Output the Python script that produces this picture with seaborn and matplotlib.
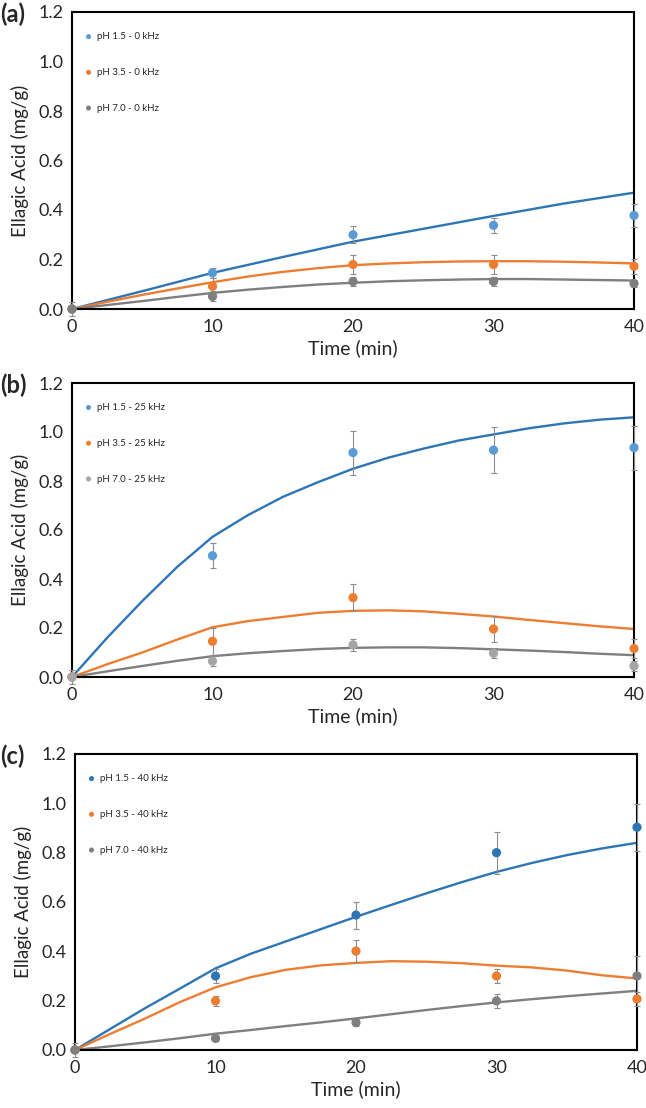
import matplotlib
matplotlib.use("Agg")
import matplotlib.pyplot as plt
import seaborn as sns
import pandas as pd

# measured points (min)
t_pts = [0, 10, 20, 30, 40]
# model curves every 2.5 min
t_fit = [0, 2.5, 5, 7.5, 10, 12.5, 15, 17.5, 20, 22.5, 25, 27.5, 30, 32.5, 35, 37.5, 40]

# panel (a) 0 kHz
a_labels = ["pH 1.5 - 0 kHz", "pH 3.5 - 0 kHz", "pH 7.0 - 0 kHz"]
a_pts = [[0, 0.146, 0.30, 0.338, 0.378],
         [0, 0.092, 0.18, 0.18, 0.173],
         [0, 0.051, 0.111, 0.111, 0.103]]
a_err = [[0.03, 0.02, 0.035, 0.03, 0.045],
         [0, 0.033, 0.04, 0.037, 0.03],
         [0, 0.02, 0.02, 0.02, 0.015]]
a_fit = [[0, 0.036, 0.072, 0.109, 0.146, 0.178, 0.21, 0.241, 0.272, 0.298,
          0.324, 0.35, 0.376, 0.401, 0.426, 0.448, 0.47],
         [0, 0.029, 0.057, 0.083, 0.108, 0.131, 0.150, 0.165, 0.177, 0.184,
          0.189, 0.192, 0.193, 0.193, 0.191, 0.188, 0.184],
         [0, 0.016, 0.032, 0.049, 0.065, 0.078, 0.089, 0.099, 0.106, 0.112,
          0.116, 0.119, 0.121, 0.121, 0.119, 0.117, 0.115]]

# panel (b) 25 kHz
b_labels = ["pH 1.5 - 25 kHz", "pH 3.5 - 25 kHz", "pH 7.0 - 25 kHz"]
b_pts = [[0, 0.495, 0.916, 0.926, 0.936],
         [0, 0.146, 0.324, 0.196, 0.116],
         [0, 0.065, 0.131, 0.097, 0.045]]
b_err = [[0.03, 0.05, 0.09, 0.095, 0.09],
         [0, 0.055, 0.055, 0.052, 0.04],
         [0, 0.02, 0.025, 0.02, 0.02]]
b_fit = [[0, 0.16, 0.31, 0.45, 0.572, 0.66, 0.735, 0.795, 0.85, 0.895,
          0.932, 0.965, 0.99, 1.015, 1.035, 1.05, 1.06],
         [0, 0.052, 0.10, 0.153, 0.203, 0.228, 0.245, 0.262, 0.27, 0.272,
          0.268, 0.258, 0.247, 0.233, 0.22, 0.207, 0.196],
         [0, 0.023, 0.045, 0.066, 0.085, 0.097, 0.106, 0.114, 0.119, 0.121,
          0.121, 0.118, 0.113, 0.108, 0.102, 0.095, 0.089]]

# panel (c) 40 kHz
c_labels = ["pH 1.5 - 40 kHz", "pH 3.5 - 40 kHz", "pH 7.0 - 40 kHz"]
c_pts = [[0, 0.30, 0.547, 0.80, 0.903],
         [0, 0.199, 0.401, 0.30, 0.207],
         [0, 0.047, 0.111, 0.199, 0.30]]
c_err = [[0.03, 0.03, 0.055, 0.085, 0.095],
         [0, 0.02, 0.045, 0.03, 0.03],
         [0, 0.01, 0.015, 0.03, 0.08]]
c_fit = [[0, 0.085, 0.17, 0.25, 0.331, 0.39, 0.44, 0.49, 0.54, 0.588,
          0.635, 0.68, 0.722, 0.758, 0.79, 0.817, 0.84],
         [0, 0.065, 0.128, 0.195, 0.254, 0.295, 0.325, 0.343, 0.353, 0.36,
          0.358, 0.352, 0.342, 0.335, 0.322, 0.303, 0.29],
         [0, 0.015, 0.031, 0.048, 0.066, 0.081, 0.097, 0.112, 0.128, 0.145,
          0.162, 0.178, 0.193, 0.206, 0.218, 0.229, 0.24]]

line_colors = ["#2E75B6", "#ED7D31", "#7F7F7F"]

sns.set_style("white")
plt.rcParams["font.family"] = ["Lato", "DejaVu Sans"]

fig = plt.figure(figsize=(6.46, 11.08), dpi=100)
W, H = 646, 1108


def px_axes(left, top, right, bottom):
    return fig.add_axes([left / W, 1 - bottom / H, (right - left) / W, (bottom - top) / H])


def draw_panel(ax, tag, top_px, labels, pts, err, fits, marker_colors):
    for i in range(3):
        df_fit = pd.DataFrame({"t": t_fit, "y": fits[i]})
        sns.lineplot(data=df_fit, x="t", y="y", ax=ax, color=line_colors[i],
                     linewidth=1.7, zorder=2, legend=False)
    for i in range(3):
        ax.errorbar(t_pts, pts[i], yerr=err[i], fmt="none", ecolor="#8C8C8C",
                    elinewidth=0.8, capsize=2, capthick=0.8, zorder=3, clip_on=False)
    for i in range(3):
        df_pts = pd.DataFrame({"t": t_pts, "y": pts[i]})
        sns.scatterplot(data=df_pts, x="t", y="y", ax=ax, color=marker_colors[i],
                        s=44, edgecolor="none", zorder=4, clip_on=False,
                        label=labels[i])
    ax.set_xlim(0, 40)
    ax.set_ylim(0, 1.2)
    ax.set_xticks([0, 10, 20, 30, 40])
    ax.set_yticks([0, 0.2, 0.4, 0.6, 0.8, 1.0, 1.2])
    ax.set_yticklabels(["%.1f" % v for v in ax.get_yticks()])
    ax.tick_params(axis="x", length=0, pad=7, labelsize=13)
    ax.tick_params(axis="y", length=0, pad=6, labelsize=13)
    for sp in ax.spines.values():
        sp.set_visible(True)
        sp.set_color("black")
        sp.set_linewidth(1.5)
    ax.set_xlabel("Time (min)", fontsize=14, labelpad=3)
    ax.set_ylabel("Ellagic Acid (mg/g)", fontsize=13.5, labelpad=7)
    ax.legend(loc="upper left", bbox_to_anchor=(0.0, 0.955), frameon=False,
              fontsize=7, labelspacing=2.75, handletextpad=-0.1,
              markerscale=0.55, borderaxespad=0.3)
    fig.text(0, 1 - top_px / H, tag, fontsize=17, fontweight="bold",
             ha="left", va="center")


ax_a = px_axes(72, 12, 634, 309)
draw_panel(ax_a, "(a)", 14, a_labels, a_pts, a_err, a_fit,
           ["#5B9BD5", "#ED7D31", "#7F7F7F"])

ax_b = px_axes(72, 383, 634, 677)
draw_panel(ax_b, "(b)", 385, b_labels, b_pts, b_err, b_fit,
           ["#5B9BD5", "#ED7D31", "#A5A5A5"])

ax_c = px_axes(75, 754, 637, 1050)
draw_panel(ax_c, "(c)", 756, c_labels, c_pts, c_err, c_fit,
           ["#2E75B6", "#ED7D31", "#7F7F7F"])

fig.savefig("out.png", dpi=100)
